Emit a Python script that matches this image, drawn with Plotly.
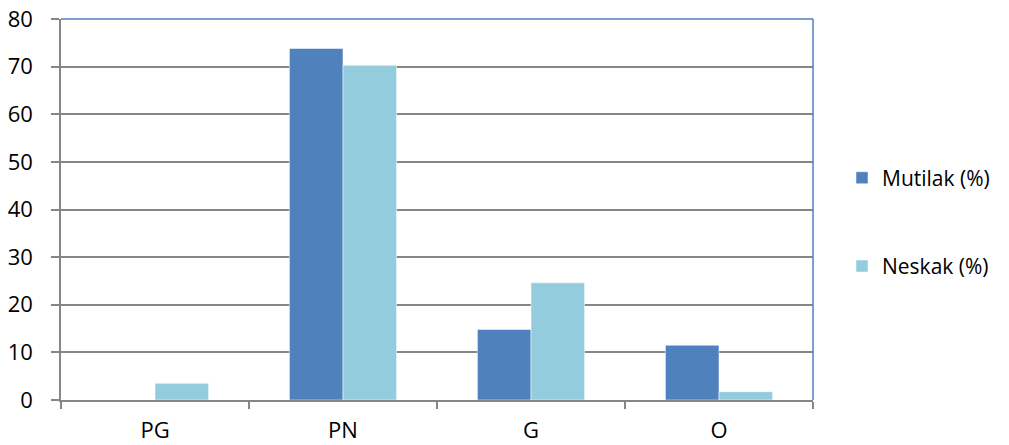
import plotly.graph_objects as go

categories = ["PG", "PN", "G", "O"]
mutilak = [0, 73.8, 14.8, 11.5]
neskak = [3.5, 70.3, 24.6, 1.75]
series_names = ["Mutilak (%)", "Neskak (%)"]
colors = ["#4F81BD", "#93CDDD"]

# page body has an 8px margin, so figure is slightly smaller than the window
W, H = 1001, 437
L, T = 53, 11
R = W - (813 - 8)
B = H - (400 - 8)

fig = go.Figure()
for i, (name, vals) in enumerate(zip(series_names, [mutilak, neskak])):
    fig.add_trace(go.Bar(
        x=categories, y=vals, name=name, legendgroup=name,
        marker=dict(color=colors[i], line=dict(color="rgba(255,255,255,0.5)", width=1)),
    ))

font = "Open Sans, Noto Sans, DejaVu Sans, sans-serif"
plot_w = W - L - R
fig.update_layout(
    width=W, height=H,
    margin=dict(l=L, r=R, t=T, b=B),
    paper_bgcolor="white", plot_bgcolor="white",
    barmode="group", bargap=0.43, bargroupgap=0,
    font=dict(family=font, size=22, color="#000000"),
    showlegend=True,
    legend=dict(x=(842 - 8 - L) / plot_w, y=0.467, xanchor="left", yanchor="middle",
                font=dict(size=21), tracegroupgap=58, itemwidth=30,
                bgcolor="rgba(0,0,0,0)"),
    xaxis=dict(showgrid=False, showline=True, linecolor="#868686", linewidth=1.5,
               ticks="outside", tickson="boundaries", ticklen=7, tickcolor="#868686",
               tickwidth=1.5, ticklabelstandoff=10, tickfont=dict(size=22),
               ticklabeloverflow="allow", automargin=False),
    yaxis=dict(range=[0, 80], dtick=10, showgrid=True, gridcolor="#868686", gridwidth=1.5,
               showline=True, linecolor="#868686", linewidth=1.5, zeroline=False,
               ticks="outside", ticklen=8, tickcolor="#868686", tickwidth=1.5,
               ticklabelstandoff=14, tickfont=dict(size=22),
               ticklabeloverflow="allow", automargin=False),
)
fig.add_shape(type="line", xref="paper", yref="paper", x0=0, x1=1, y0=1, y1=1,
              line=dict(color="#4F81BD", width=1.5))
fig.add_shape(type="line", xref="paper", yref="paper", x0=1, x1=1, y0=0, y1=1,
              line=dict(color="#4F81BD", width=1.5))

fig.write_html("out.html")
